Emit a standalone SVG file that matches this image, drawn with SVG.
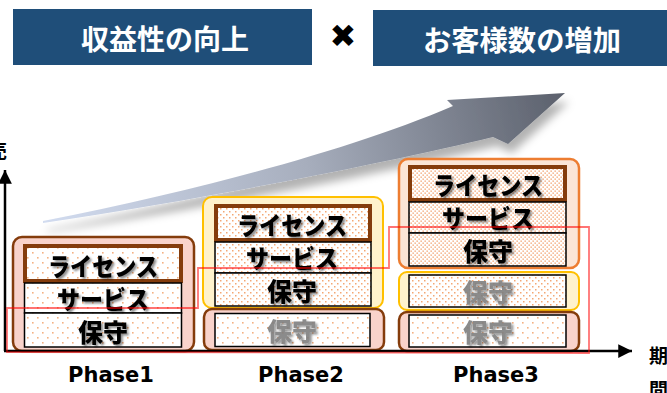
<svg xmlns="http://www.w3.org/2000/svg" width="667" height="393" viewBox="0 0 667 393">
<style>
.hdr{fill:#1F4E79}
.hdrt{font-family:"Noto Sans CJK JP","Noto Sans",sans-serif;font-weight:700;font-size:28px;fill:#fff;text-anchor:middle;dominant-baseline:central}
.lbl{font-family:"Noto Sans CJK JP","Noto Sans",sans-serif;font-weight:900;font-size:25px;fill:#000;text-anchor:middle;dominant-baseline:central}
.lbl.g{fill:#7F7F7F}
.ph{font-family:"DejaVu Sans","Liberation Sans",sans-serif;font-weight:700;font-size:21px;fill:#000;text-anchor:middle}
.ax{font-family:"Noto Sans CJK JP",sans-serif;font-weight:700;font-size:19px;fill:#000}
.oB{fill:#F9D3CB;stroke:#843C0C;stroke-width:2.5}
.oY{fill:#FFF2CC;stroke:#FFC000;stroke-width:2}
.oO{fill:#FBE5D6;stroke:#ED7D31;stroke-width:2.5}
.lic{stroke:#843C0C;stroke-width:4}
.inb{stroke:#000;stroke-width:1.5}
</style>
<defs>
<pattern id="dS" width="10" height="10" patternUnits="userSpaceOnUse"><rect width="10" height="10" fill="#fff"/><rect x="2" y="2" width="1.6" height="1.6" fill="#F4B183"/><rect x="7" y="7" width="1.6" height="1.6" fill="#F4B183"/></pattern>
<pattern id="dM" width="6" height="6" patternUnits="userSpaceOnUse"><rect width="6" height="6" fill="#fff"/><rect x="1" y="1" width="1.5" height="1.5" fill="#F4A774"/><rect x="4" y="4" width="1.5" height="1.5" fill="#F4A774"/></pattern>
<pattern id="dD" width="4" height="4" patternUnits="userSpaceOnUse"><rect width="4" height="4" fill="#fff"/><rect x="0.5" y="0.5" width="1.3" height="1.3" fill="#F29A62"/><rect x="2.5" y="2.5" width="1.3" height="1.3" fill="#F29A62"/></pattern>
<linearGradient id="ag" x1="43" y1="221" x2="565" y2="94" gradientUnits="userSpaceOnUse">
<stop offset="0" stop-color="#D2DCF0"/><stop offset="0.5" stop-color="#A7AEBD"/><stop offset="1" stop-color="#5B606C"/>
</linearGradient>
<filter id="as" x="-10%" y="-30%" width="130%" height="170%"><feDropShadow dx="4" dy="9" stdDeviation="4" flood-color="#000" flood-opacity="0.3"/></filter>
<filter id="ts" x="-10%" y="-30%" width="130%" height="170%"><feDropShadow dx="2" dy="2" stdDeviation="1" flood-color="#000" flood-opacity="0.45"/></filter>
<marker id="ah" viewBox="0 0 10 10" refX="10" refY="5" markerWidth="6" markerHeight="5.5" orient="auto" markerUnits="strokeWidth"><path d="M0,0 L10,5 L0,10 Z" fill="#000"/></marker>
</defs>

<g id="header-left">
<rect class="hdr" x="13" y="9" width="299" height="56"/>
<text class="hdrt" x="165" y="38" textLength="168" lengthAdjust="spacingAndGlyphs">収益性の向上</text>
</g>
<g id="times">
<text x="343" y="36" font-family="DejaVu Sans,sans-serif" font-size="32" text-anchor="middle" dominant-baseline="central" fill="#000">✖</text>
</g>
<g id="header-right">
<rect class="hdr" x="373" y="10" width="294" height="56"/>
<text class="hdrt" x="522" y="39" textLength="198" lengthAdjust="spacingAndGlyphs">お客様数の増加</text>
</g>

<g id="growth-arrow">
<path d="M43,221 C200,190 350,150 453,106 L447,100 L565,93 L508,144 L493,137 C400,160 200,200 43,223 Z" fill="url(#ag)" filter="url(#as)"/>
</g>

<g id="phase1">
<rect class="oB" x="13" y="237" width="181" height="114" rx="9"/>
<rect class="lic" fill="url(#dS)" x="25" y="246" width="156" height="35"/>
<rect class="inb" fill="url(#dS)" x="24.5" y="283" width="157" height="30"/>
<rect class="inb" fill="url(#dS)" x="24.5" y="313" width="157" height="34"/>
<g filter="url(#ts)">
<text class="lbl" x="103" y="265" textLength="110" lengthAdjust="spacingAndGlyphs">ライセンス</text>
<text class="lbl" x="103" y="298" textLength="92" lengthAdjust="spacingAndGlyphs">サービス</text>
<text class="lbl" x="103" y="331" font-size="26">保守</text>
</g>
</g>

<g id="phase2">
<rect class="oY" x="203" y="197" width="180" height="111" rx="9"/>
<rect class="lic" fill="url(#dM)" x="216" y="206" width="154" height="34"/>
<rect class="inb" fill="url(#dM)" x="215" y="242" width="156" height="31"/>
<rect class="inb" fill="url(#dM)" x="215" y="273" width="156" height="33"/>
<rect class="oB" x="204" y="309" width="180" height="41" rx="8"/>
<rect class="inb" fill="url(#dS)" x="215" y="313.5" width="155" height="33"/>
<g filter="url(#ts)">
<text class="lbl" x="292" y="224" textLength="110" lengthAdjust="spacingAndGlyphs">ライセンス</text>
<text class="lbl" x="292" y="257" textLength="92" lengthAdjust="spacingAndGlyphs">サービス</text>
<text class="lbl" x="292" y="290" font-size="26">保守</text>
</g>
<text class="lbl g" x="292" y="330" font-size="26" filter="url(#ts)" opacity="0.9">保守</text>
</g>

<g id="phase3">
<rect class="oO" x="399" y="159" width="180" height="109" rx="9"/>
<rect class="lic" fill="url(#dD)" x="410" y="167" width="155" height="33"/>
<rect class="inb" fill="url(#dD)" x="409" y="202" width="157" height="31"/>
<rect class="inb" fill="url(#dD)" x="409" y="233" width="157" height="33"/>
<rect class="oY" x="399" y="272" width="180" height="38" rx="8"/>
<rect class="inb" fill="url(#dM)" x="409" y="275" width="157" height="32"/>
<rect class="oB" x="399" y="312" width="180" height="39" rx="8"/>
<rect class="inb" fill="url(#dS)" x="409" y="315" width="157" height="32"/>
<g filter="url(#ts)">
<text class="lbl" x="488" y="184" textLength="110" lengthAdjust="spacingAndGlyphs">ライセンス</text>
<text class="lbl" x="488" y="217" textLength="92" lengthAdjust="spacingAndGlyphs">サービス</text>
<text class="lbl" x="488" y="250" font-size="26">保守</text>
</g>
<text class="lbl g" x="488" y="291" font-size="26" filter="url(#ts)" opacity="0.9">保守</text>
<text class="lbl g" x="488" y="331" font-size="26" filter="url(#ts)" opacity="0.9">保守</text>
</g>

<g id="connectors">
<line x1="5" y1="351" x2="5" y2="170" stroke="#000" stroke-width="2.5" marker-end="url(#ah)"/>
<line x1="4" y1="351" x2="632" y2="351" stroke="#000" stroke-width="2.5" marker-end="url(#ah)"/>
<path d="M7,352 L7,308 L198,308 L198,268 L389,268 L389,227 L589,227 L589,353 Z" fill="none" stroke="#FF0000" stroke-opacity="0.55" stroke-width="1.8"/>
</g>

<g id="axis-labels">
<text class="ax" x="-12" y="158" font-size="20">売</text>
<text class="ax" x="649" y="363">期</text>
<text class="ax" x="649" y="397">間</text>
</g>

<g id="phase-labels">
<text class="ph" x="111" y="382">Phase1</text>
<text class="ph" x="301" y="382">Phase2</text>
<text class="ph" x="496" y="382">Phase3</text>
</g>
</svg>
